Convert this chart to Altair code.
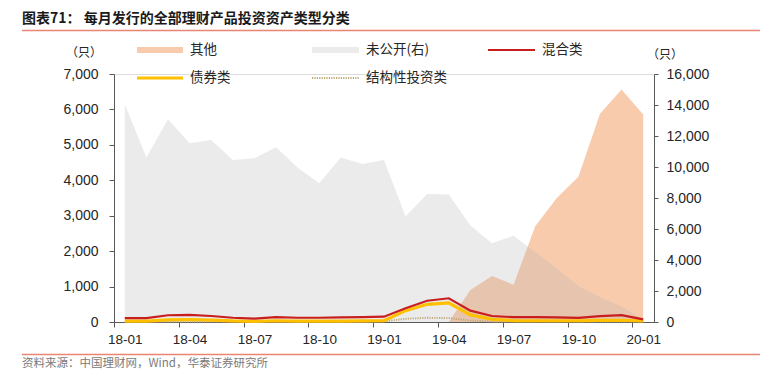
import altair as alt
import pandas as pd

months = ["18-01", "18-02", "18-03", "18-04", "18-05", "18-06", "18-07", "18-08",
          "18-09", "18-10", "18-11", "18-12", "19-01", "19-02", "19-03", "19-04",
          "19-05", "19-06", "19-07", "19-08", "19-09", "19-10", "19-11", "19-12", "20-01"]
# 其他 (left axis)
other = [0, 0, 0, 0, 0, 0, 0, 0, 0, 0, 0, 0, 0, 0, 0, 0,
         900, 1300, 1050, 2700, 3500, 4100, 5880, 6560, 5860]
# 未公开(右) (right axis)
undisclosed = [14050, 10620, 13080, 11530, 11740, 10450, 10560, 11270, 9960, 8950,
               10620, 10190, 10450, 6800, 8260, 8220, 6220, 5080, 5570, 4500,
               3450, 2300, 1600, 1000, 150]
# 混合类
mixed = [110, 110, 190, 200, 170, 120, 95, 140, 120, 120, 130, 140, 150, 390, 600, 670,
         320, 170, 135, 135, 130, 115, 165, 195, 75]
# 债券类
bond = [25, 25, 60, 70, 55, 30, 20, 35, 25, 25, 25, 30, 40, 320, 500, 540,
        200, 75, 40, 35, 35, 35, 45, 50, 30]
# 结构性投资类
structured = [10, 10, 12, 12, 12, 10, 10, 10, 10, 10, 10, 12, 20, 90, 120, 110,
              40, 15, 10, 10, 10, 10, 10, 10, 10]

left_ticks = [0, 1000, 2000, 3000, 4000, 5000, 6000, 7000]
right_ticks = [0, 2000, 4000, 6000, 8000, 10000, 12000, 14000, 16000]

df = pd.DataFrame({
    "idx": list(range(len(months))),
    "month": months,
    "other": other,
    "undisclosed": undisclosed,
    "mixed": mixed,
    "bond": bond,
    "structured": structured,
})
one = pd.DataFrame({"k": [0]})

n = len(months)
W, H = 540, 248
half_band = W / n / 2
label_list = "[" + ",".join("'" + m + "'" for m in months) + "]"
tick_vals = [i - 0.5 for i in range(0, n, 3)]

AX_COLOR = "#595959"
LBL_COLOR = "#262626"
NUM_FONT = "Liberation Sans"
CJK_FONT = "Noto Sans CJK SC"

x_enc = alt.X(
    "idx:Q",
    title=None,
    scale=alt.Scale(domain=[-0.5, n - 0.5], nice=False, zero=False),
    axis=alt.Axis(
        values=tick_vals,
        labelExpr=label_list + "[round(datum.value + 0.5)]",
        labelOffset=half_band,
        labelFlush=False,
        labelOverlap=False,
        labelAlign="center",
        tickSize=5,
        labelPadding=5,
        grid=False,
        domainColor=AX_COLOR,
        tickColor=AX_COLOR,
        labelColor=LBL_COLOR,
        labelFont=NUM_FONT,
        labelFontSize=13.5,
    ),
)

left_scale = alt.Scale(domain=[0, 7000], nice=False, zero=True)
right_scale = alt.Scale(domain=[0, 16000], nice=False, zero=True)

orange = alt.Chart(df).mark_area(color="#F8CBAD", opacity=1, interpolate="linear").encode(
    x=x_enc,
    y=alt.Y("other:Q", scale=left_scale, title=None,
            axis=alt.Axis(orient="left", values=left_ticks, format=",.0f", grid=False,
                          tickSize=5, labelPadding=11, domainColor=AX_COLOR,
                          tickColor=AX_COLOR, labelColor=LBL_COLOR,
                          labelFont=NUM_FONT, labelFontSize=14)),
)

gray = alt.Chart(df).mark_area(color="#AFAFAF", opacity=0.25, interpolate="linear").encode(
    x=x_enc,
    y=alt.Y("undisclosed:Q", scale=right_scale, title=None,
            axis=alt.Axis(orient="right", values=right_ticks, format=",.0f", grid=False,
                          tickSize=4, labelPadding=8, domainColor=AX_COLOR,
                          tickColor=AX_COLOR, labelColor=LBL_COLOR,
                          labelFont=NUM_FONT, labelFontSize=14)),
)

struct_line = alt.Chart(df).mark_line(color="#BFA878", strokeWidth=1.8, strokeDash=[1.2, 1.2]).encode(
    x=x_enc, y=alt.Y("structured:Q", scale=left_scale, axis=None, title=None))
bond_line = alt.Chart(df).mark_line(color="#FFC000", strokeWidth=3.2).encode(
    x=x_enc, y=alt.Y("bond:Q", scale=left_scale, axis=None, title=None))
mixed_line = alt.Chart(df).mark_line(color="#C81E1E", strokeWidth=2.2).encode(
    x=x_enc, y=alt.Y("mixed:Q", scale=left_scale, axis=None, title=None))


def text(s, x, y, size, color, weight="normal", font=CJK_FONT, align="left"):
    return alt.Chart(one).mark_text(
        align=align, baseline="middle", font=font, fontSize=size, color=color,
        fontWeight=weight,
    ).encode(x=alt.value(x), y=alt.value(y), text=alt.value(s))


def hrule(x1, x2, y, color, width, dash=None):
    kw = dict(color=color, strokeWidth=width)
    if dash:
        kw["strokeDash"] = dash
    return alt.Chart(one).mark_rule(**kw).encode(
        x=alt.value(x1), x2=alt.value(x2), y=alt.value(y))


def rect(x1, x2, y1, y2, color):
    return alt.Chart(one).mark_rect(color=color).encode(
        x=alt.value(x1), x2=alt.value(x2), y=alt.value(y1), y2=alt.value(y2))


annotations = [
    text("图表71：  每月发行的全部理财产品投资资产类型分类", -92, -55.5, 14, "#1a1a1a", weight="bold"),
    hrule(-92, 646, -43.5, "#EA8573", 1.6),
    hrule(-92, 646, 280.5, "#EA8573", 1.6),
    text("资料来源：中国理财网，Wind，华泰证券研究所", -92, 289.5, 11.5, "#7a7a7a"),
    text("（只）", -30, -21, 12, LBL_COLOR, align="center"),
    text("（只）", 551, -19, 12, LBL_COLOR, align="center"),
    # legend row 1
    rect(23, 69, -27, -21, "#F8CBAD"),
    text("其他", 76, -24, 13.5, LBL_COLOR),
    rect(198, 245, -27, -21, "#EBEBEB"),
    text("未公开(右)", 252, -24, 13.5, LBL_COLOR),
    hrule(374, 421, -24, "#C81E1E", 2.2),
    text("混合类", 428, -24, 13.5, LBL_COLOR),
    # legend row 2
    hrule(23, 69, 4, "#FFC000", 3.2),
    text("债券类", 76, 4, 13.5, LBL_COLOR),
    hrule(198, 245, 4, "#BFA878", 1.8, dash=[1.2, 1.2]),
    text("结构性投资类", 252, 4, 13.5, LBL_COLOR),
]

chart = alt.layer(
    orange, gray, struct_line, bond_line, mixed_line, *annotations
).resolve_scale(
    y="independent"
).properties(
    width=W,
    height=H,
    autosize=alt.AutoSizeParams(type="none"),
    padding={"left": 106, "top": 66, "right": 120, "bottom": 56},
).configure_view(
    stroke=None
).configure(
    background="white"
)

chart.save("out.html", embed_options={"renderer": "svg", "actions": False})
